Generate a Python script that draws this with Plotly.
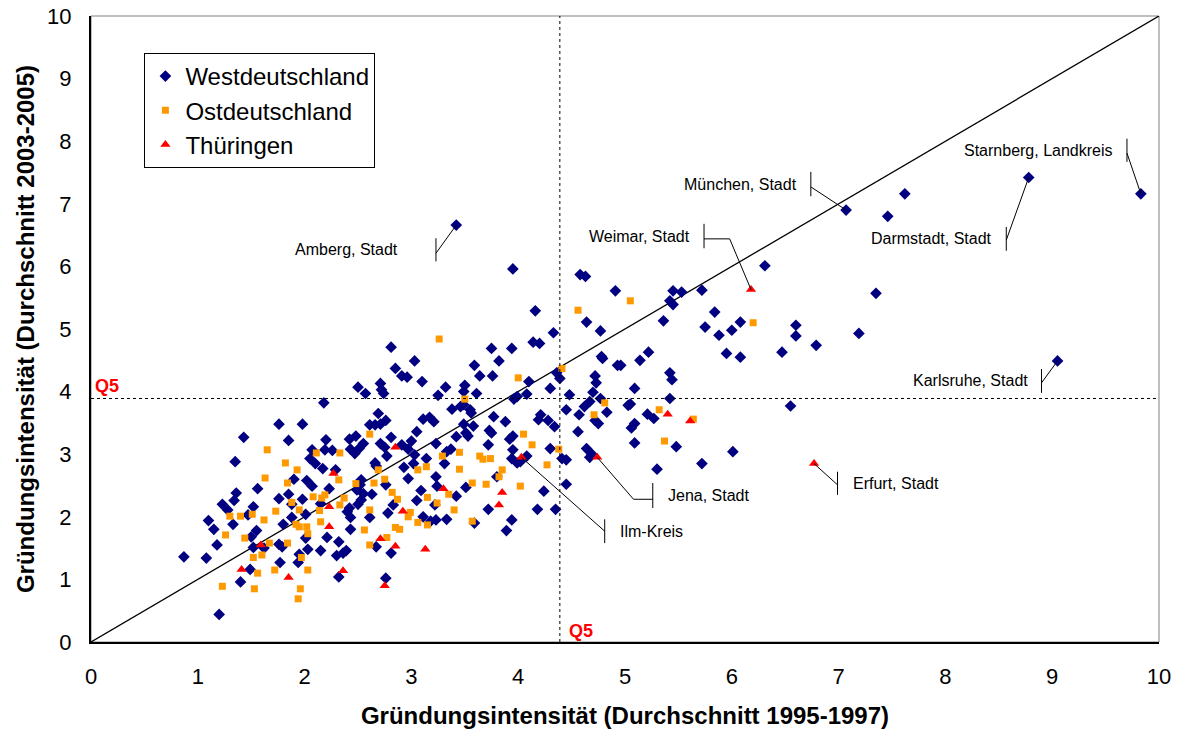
import plotly.graph_objects as go

# ---------------- data ----------------
# first five west points are the labelled districts
west_x = [3.42, 7.07, 9.83, 8.78, 9.05,
          2.18, 1.76, 1.98, 1.43, 1.85, 2.20, 2.26, 2.19, 2.07, 2.05, 2.10, 2.17, 2.29, 1.35, 1.90, 2.02, 2.07, 1.56, 1.36, 1.34,
          1.23, 1.28, 1.52, 1.47, 1.76, 1.85, 1.98, 1.88, 2.23, 2.15, 1.10, 1.15, 1.33, 1.55, 1.50, 1.18, 1.88, 1.80, 2.01, 2.01,
          2.21, 2.32, 1.76, 1.79, 1.62, 1.52, 2.03, 2.15, 2.30, 1.95, 0.87, 1.08, 1.77, 1.94, 1.49, 1.40, 2.32, 1.20,
          4.33, 2.81, 3.75, 3.94, 4.14, 4.20, 3.03, 3.82, 2.85, 3.59, 3.64, 3.76, 2.91, 2.96, 3.10, 2.71, 2.50, 2.72, 2.57, 2.74,
          3.32, 3.25, 3.50, 3.49, 3.61, 4.10, 4.30, 3.99, 4.08, 3.96, 3.38, 3.46, 3.49, 3.55, 3.56, 2.69, 3.11, 3.17, 3.21, 2.76,
          2.66, 2.71, 2.61, 3.77, 3.88, 4.21, 4.19, 4.28, 4.34, 4.45, 3.49, 3.58, 3.51, 3.53, 3.42, 3.73, 3.75, 3.92, 3.95, 3.05,
          3.00, 2.81, 2.42, 2.48, 2.55, 2.51, 2.43, 2.47, 2.71, 2.75, 2.77, 2.91, 2.97, 3.03, 3.02, 3.14, 3.23, 3.33, 3.37, 3.31,
          3.72, 3.95, 3.94, 3.99, 4.02, 4.08, 4.30, 4.41, 4.45, 2.66, 2.67, 2.93, 2.97, 3.23, 3.24, 3.51, 3.80, 2.53, 2.52, 2.49,
          2.55, 2.53, 2.50, 2.42, 2.40, 2.43, 2.63, 2.76, 2.83, 2.78, 2.61, 2.43, 3.05, 3.09, 3.11, 3.22, 3.23, 3.18, 3.42, 3.33,
          3.72, 3.59, 3.94, 3.89, 4.18, 4.24, 4.35, 2.39, 2.36, 2.67, 2.81, 2.76,
          4.58, 4.63, 4.91, 5.45, 5.53, 5.72, 6.31, 5.42, 5.45, 4.64, 4.77, 5.36, 5.84, 5.75, 5.88, 6.00, 6.08, 6.60, 6.60, 6.79,
          7.19, 5.95, 6.08, 6.47, 4.78, 4.79, 5.14, 5.22, 4.93, 4.96, 4.72, 4.73, 4.36, 4.39, 5.42, 5.44, 5.09, 4.70, 4.77, 4.67,
          4.48, 5.42, 4.62, 4.57, 4.83, 5.03, 5.05, 5.21, 5.27, 4.72, 4.75, 5.06, 5.09, 4.56, 6.55, 5.09, 5.48, 6.01, 4.64, 4.69,
          4.67, 5.72, 5.30, 4.45,
          3.95, 4.16, 7.46, 7.62, 7.35]
west_y = [6.66, 6.90, 7.16, 7.42, 4.49,
          3.82, 3.48, 3.48, 3.27, 3.22, 3.23, 3.06, 3.07, 3.07, 2.93, 2.85, 2.77, 2.75, 2.88, 2.60, 2.58, 2.49, 2.45, 2.38, 2.26,
          2.20, 2.11, 2.16, 2.03, 2.29, 2.36, 2.28, 2.20, 2.45, 2.21, 1.94, 1.80, 1.88, 1.78, 1.68, 1.55, 1.99, 1.88, 2.04, 1.66,
          1.67, 1.60, 1.56, 1.52, 1.50, 1.51, 1.48, 1.46, 1.38, 1.40, 1.36, 1.34, 1.27, 1.27, 1.16, 0.96, 1.04, 0.44,
          4.94, 4.71, 4.69, 4.69, 4.79, 4.77, 4.49, 4.49, 4.37, 4.42, 4.25, 4.25, 4.25, 4.23, 4.16, 4.13, 4.07, 4.03, 3.97, 3.97,
          4.07, 3.94, 4.10, 4.00, 3.97, 4.16, 4.05, 3.92, 3.96, 3.88, 3.72, 3.76, 3.79, 3.71, 3.66, 3.65, 3.56, 3.59, 3.52, 3.54,
          3.47, 3.48, 3.47, 3.60, 3.52, 3.63, 3.55, 3.54, 3.44, 3.71, 3.48, 3.45, 3.34, 3.29, 3.28, 3.38, 3.34, 3.24, 3.29, 3.36,
          3.21, 3.27, 3.24, 3.29, 3.17, 3.09, 3.08, 3.01, 3.17, 3.11, 2.97, 3.15, 3.08, 2.99, 2.85, 2.93, 3.17, 3.04, 3.08, 2.85,
          3.15, 3.07, 2.93, 2.86, 2.88, 2.97, 3.09, 2.93, 2.91, 2.86, 2.81, 2.79, 2.61, 2.64, 2.49, 2.47, 2.64, 2.59, 2.51, 2.43,
          2.37, 2.27, 2.20, 2.14, 2.08, 1.99, 2.36, 2.51, 2.19, 2.06, 1.99, 1.80, 2.26, 2.42, 2.00, 2.19, 1.95, 1.93, 2.33, 1.96,
          2.12, 1.90, 1.95, 1.78, 2.12, 2.41, 2.12, 1.46, 1.42, 1.52, 1.42, 1.02,
          5.87, 5.84, 5.61, 5.61, 5.59, 5.62, 6.01, 5.45, 5.39, 5.11, 4.97, 5.13, 5.27, 5.03, 4.90, 4.98, 5.11, 5.06, 4.89, 4.74,
          4.93, 4.61, 4.55, 4.63, 4.56, 4.53, 4.50, 4.63, 4.42, 4.42, 4.25, 4.14, 4.30, 4.21, 4.30, 4.19, 4.05, 3.99, 3.89, 3.84,
          3.95, 3.89, 3.76, 3.63, 3.67, 3.78, 3.80, 3.64, 3.57, 3.54, 3.49, 3.42, 3.49, 3.36, 3.77, 3.18, 3.12, 3.04, 3.09, 3.00,
          2.95, 2.85, 2.76, 2.52,
          5.96, 5.29, 6.80, 7.16, 5.57]

ost_x = [1.65, 2.11, 2.33, 1.82, 1.93, 1.63, 1.84, 2.32, 2.08, 2.16, 2.19, 1.88, 1.95, 2.33, 2.14, 1.73, 1.51, 1.40, 1.30, 1.62,
         1.92, 1.95, 2.02, 2.15, 2.03, 1.26, 1.44, 1.67, 1.84, 1.52, 1.60, 1.97, 1.72, 2.03, 1.56, 1.23, 1.53, 1.96, 1.94,
         3.26, 4.00, 4.41, 3.50, 2.61, 4.05, 4.13, 4.38, 4.27, 3.29, 3.45, 3.64, 3.67, 3.74, 3.14, 3.06, 3.45, 2.69, 2.75, 2.65,
         2.48, 3.82, 3.85, 3.57, 3.70, 4.02, 3.35, 3.15, 3.24, 2.82, 2.87, 2.37, 2.61, 2.99, 2.97, 3.40, 3.06, 3.15, 3.57, 2.56,
         2.85, 2.89, 2.77, 2.61,
         4.56, 5.05, 6.20, 4.81, 4.71, 5.32, 5.64, 5.37]
ost_y = [3.07, 3.02, 3.02, 2.86, 2.75, 2.62, 2.54, 2.59, 2.32, 2.30, 2.35, 2.23, 2.11, 2.19, 2.10, 2.09, 2.04, 2.01, 2.01, 1.95,
         1.88, 1.84, 1.84, 1.92, 1.73, 1.71, 1.66, 1.58, 1.58, 1.35, 1.39, 1.35, 1.15, 1.15, 1.10, 0.89, 0.85, 0.85, 0.69,
         4.84, 4.22, 4.37, 3.88, 3.32, 3.32, 3.15, 3.08, 2.83, 2.97, 3.03, 2.97, 2.92, 2.93, 2.80, 2.75, 2.76, 2.75, 2.60, 2.54,
         2.53, 2.64, 2.75, 2.54, 2.52, 2.49, 2.36, 2.31, 2.22, 2.39, 2.28, 2.30, 2.11, 2.07, 2.00, 2.11, 1.91, 1.87, 1.93, 1.79,
         1.83, 1.80, 1.67, 1.55,
         5.30, 5.45, 5.10, 3.82, 3.63, 3.71, 3.56, 3.21]

# first four Thüringen points are the labelled districts (Weimar, Jena, Ilm-Kreis, Erfurt)
th_x = [6.18, 4.74, 4.03, 6.77,
        2.27, 2.23, 2.23, 1.59, 1.41, 1.85,
        2.85, 3.30, 3.85, 3.82, 2.92, 2.71, 2.85, 3.13, 2.36, 2.75,
        5.40, 5.61]
th_y = [5.63, 2.95, 2.95, 2.85,
        2.69, 2.16, 1.84, 1.55, 1.16, 1.03,
        3.11, 2.45, 2.39, 2.19, 2.09, 1.65, 1.53, 1.48, 1.14, 0.90,
        3.64, 3.53]

q5_x = 4.39   # Q5 threshold 1995-1997
q5_y = 3.89   # Q5 threshold 2003-2005

series_names = ["Westdeutschland", "Ostdeutschland", "Thüringen"]

FONT = "Liberation Sans, Arial, sans-serif"

fig = go.Figure()

# diagonal
fig.add_trace(go.Scatter(x=[0, 10], y=[0, 10], mode="lines",
                         line=dict(color="black", width=1.3),
                         showlegend=False, hoverinfo="skip"))

fig.add_trace(go.Scatter(x=west_x, y=west_y, mode="markers", name=series_names[0],
                         legendgroup="w",
                         marker=dict(symbol="diamond", size=9, color="#000080")))
fig.add_trace(go.Scatter(x=ost_x, y=ost_y, mode="markers", name=series_names[1],
                         legendgroup="o",
                         marker=dict(symbol="square", size=7, color="#FF9900")))
fig.add_trace(go.Scatter(x=th_x, y=th_y, mode="markers", name=series_names[2],
                         legendgroup="t",
                         marker=dict(symbol="triangle-up", size=9, color="#FF0000")))

shapes = []
annotations = []

# plot-area frame (thin grey)
shapes.append(dict(type="rect", xref="paper", yref="paper", x0=0, y0=0, x1=1, y1=1,
                   line=dict(color="#808080", width=1), layer="below"))

# Q5 dashed lines
shapes.append(dict(type="line", x0=q5_x, x1=q5_x, y0=0, y1=10,
                   line=dict(color="black", width=1, dash="3px,3px")))
shapes.append(dict(type="line", x0=0, x1=10, y0=q5_y, y1=q5_y,
                   line=dict(color="black", width=1, dash="3px,3px")))

annotations.append(dict(x=0, y=q5_y, text="<b>Q5</b>", showarrow=False,
                        xanchor="left", yanchor="bottom", xshift=2, yshift=0,
                        font=dict(family=FONT, size=18, color="#FF0000")))
annotations.append(dict(x=q5_x, y=0, text="<b>Q5</b>", showarrow=False,
                        xanchor="left", yanchor="bottom", xshift=7, yshift=-1,
                        font=dict(family=FONT, size=18, color="#FF0000")))

# callouts: label, point, bar x, bar y-range, leader path (bar -> point), text side
callouts = [
    ("Amberg, Stadt",      west_x[0], west_y[0], 3.23, 6.08, 6.45, [(3.23, 6.21)], "right"),
    ("München, Stadt",     west_x[1], west_y[1], 6.74, 7.12, 7.51, [(6.74, 7.27)], "right"),
    ("Starnberg, Landkreis", west_x[2], west_y[2], 9.70, 7.67, 8.04, [(9.70, 7.81)], "right"),
    ("Darmstadt, Stadt",   west_x[3], west_y[3], 8.57, 6.25, 6.63, [(8.57, 6.42)], "right"),
    ("Karlsruhe, Stadt",   west_x[4], west_y[4], 8.90, 3.98, 4.36, [(8.90, 4.14)], "right"),
    ("Weimar, Stadt",      th_x[0], th_y[0], 5.74, 6.29, 6.68, [(5.74, 6.44), (5.98, 6.44)], "right"),
    ("Jena, Stadt",        th_x[1], th_y[1], 5.26, 2.14, 2.54, [(5.26, 2.28), (5.08, 2.28)], "left"),
    ("Ilm-Kreis",          th_x[2], th_y[2], 4.81, 1.58, 1.96, [(4.81, 1.77)], "left"),
    ("Erfurt, Stadt",      th_x[3], th_y[3], 6.99, 2.35, 2.72, [(6.99, 2.51)], "left"),
]

for label, px, py, bx, by0, by1, path, side in callouts:
    shapes.append(dict(type="line", x0=bx, x1=bx, y0=by0, y1=by1,
                       line=dict(color="black", width=1)))
    pts = path + [(px, py)]
    for (xa, ya), (xb, yb) in zip(pts[:-1], pts[1:]):
        shapes.append(dict(type="line", x0=xa, y0=ya, x1=xb, y1=yb,
                           line=dict(color="black", width=1)))
    ymid = (by0 + by1) / 2
    if side == "right":
        annotations.append(dict(x=bx, y=ymid, text=label, showarrow=False,
                                xanchor="right", yanchor="middle", xshift=-12,
                                font=dict(family=FONT, size=16, color="black")))
    else:
        annotations.append(dict(x=bx, y=ymid, text=label, showarrow=False,
                                xanchor="left", yanchor="middle", xshift=13,
                                font=dict(family=FONT, size=16, color="black")))

# Amberg's label sits further left in the original
annotations[2]["xshift"] = -36

fig.update_layout(
    width=1178, height=731,
    margin=dict(l=91, r=19, t=16, b=89),
    paper_bgcolor="white", plot_bgcolor="white",
    font=dict(family=FONT, size=22, color="black"),
    showlegend=True,
    legend=dict(x=0.05, y=0.941, xanchor="left", yanchor="top",
                bordercolor="black", borderwidth=1, bgcolor="white",
                font=dict(family=FONT, size=24, color="black"),
                tracegroupgap=0, itemwidth=30),
    shapes=shapes,
    annotations=annotations,
    xaxis=dict(range=[0, 10], dtick=1, tick0=0, showgrid=False, zeroline=False,
               showline=True, linecolor="black", linewidth=2, ticks="",
               automargin=False, ticklabeloverflow="allow",
               tickfont=dict(family=FONT, size=22), ticklabelstandoff=14,
               title=dict(text="<b>Gründungsintensität (Durchschnitt 1995-1997)</b>",
                          font=dict(family=FONT, size=24), standoff=19)),
    yaxis=dict(range=[0, 10], dtick=1, tick0=0, showgrid=False, zeroline=False,
               showline=True, linecolor="black", linewidth=2, ticks="",
               automargin=False, ticklabeloverflow="allow",
               tickfont=dict(family=FONT, size=22), ticklabelstandoff=13,
               title=dict(text="<b>Gründungsintensität (Durchschnitt 2003-2005)</b>",
                          font=dict(family=FONT, size=24), standoff=6)),
)

# remove the browser's default 8px body margin so the figure fills the window
fig.write_html("out.html",
               config={"displayModeBar": False},
               post_script="document.body.style.margin='0px';document.body.style.overflow='hidden';")
